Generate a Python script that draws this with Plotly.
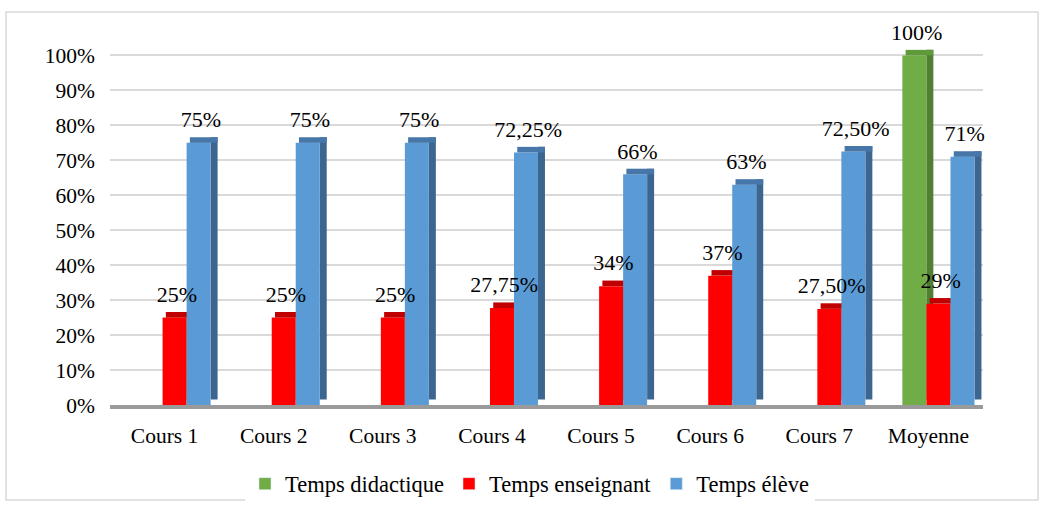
import plotly.graph_objects as go

categories = ["Cours 1", "Cours 2", "Cours 3", "Cours 4", "Cours 5", "Cours 6", "Cours 7", "Moyenne"]
didactique = [None, None, None, None, None, None, None, 1.00]
enseignant = [0.25, 0.25, 0.25, 0.2775, 0.34, 0.37, 0.275, 0.29]
eleve = [0.75, 0.75, 0.75, 0.7225, 0.66, 0.63, 0.725, 0.71]
didactique_labels = ["", "", "", "", "", "", "", "100%"]
enseignant_labels = ["25%", "25%", "25%", "27,75%", "34%", "37%", "27,50%", "29%"]
eleve_labels = ["75%", "75%", "75%", "72,25%", "66%", "63%", "72,50%", "71%"]
series_names = ["Temps didactique", "Temps enseignant", "Temps élève"]

W, H = 1044, 507
L, R, T, B = 110, 61, 24, 102
FONT = "Liberation Serif, Times New Roman, serif"
FS_TICK = 21.5
FS_LABEL = 22
FS_LEGEND = 22.5
YMAX = 1.09

BW = 0.22       # bar width (category units)
SW = 0.064      # side depth width
DEPTH = 0.016   # vertical depth (data units)

series = [
    (didactique, didactique_labels, series_names[0], "#70ad47", "#507e32", "#5f9a3a", -0.239),
    (enseignant, enseignant_labels, series_names[1], "#ff0000", "#b00000", "#c00000", -0.018),
    (eleve, eleve_labels, series_names[2], "#5b9bd5", "#3c6690", "#4677a8", 0.202),
]

fig = go.Figure()
for vals, labels, name, col, side_col, top_col, off in series:
    # side face
    fig.add_trace(go.Bar(
        x=categories, y=vals, base=DEPTH, offset=off + BW, width=SW,
        marker=dict(color=side_col, line=dict(width=0)),
        showlegend=False, hoverinfo="skip"))
    # front face
    fig.add_trace(go.Bar(
        x=categories, y=vals, name=name, offset=off, width=BW,
        marker=dict(color=col, line=dict(width=0)),
        showlegend=False))
    # top face
    fig.add_trace(go.Bar(
        x=categories, y=[DEPTH if v is not None else None for v in vals], base=vals,
        offset=off + 0.03, width=BW + SW - 0.03,
        marker=dict(color=top_col, line=dict(width=0)),
        showlegend=False, hoverinfo="skip"))

# labels drawn last so they sit on top of every bar
for vals, labels, name, col, side_col, top_col, off in series:
    fig.add_trace(go.Bar(
        x=categories, y=[DEPTH + 0.006 if v is not None else None for v in vals], base=vals,
        offset=off + 0.02, width=BW,
        marker=dict(color="rgba(0,0,0,0)", line=dict(width=0)),
        text=labels, textposition="outside", cliponaxis=False,
        textfont=dict(family=FONT, size=FS_LABEL, color="black"),
        constraintext="none",
        showlegend=False, hoverinfo="skip"))

# legend entries
for vals, labels, name, col, side_col, top_col, off in series:
    fig.add_trace(go.Bar(x=[categories[0]], y=[None], name=name,
                         marker=dict(color=col), showlegend=True))

pw = W - L - R
ph = H - T - B
fig.add_shape(type="rect", xref="paper", yref="paper",
              x0=(6 - L) / pw, x1=(1038 - L) / pw,
              y0=(H - B - 500) / ph, y1=(H - B - 12) / ph,
              line=dict(color="#d9d9d9", width=1.5), fillcolor="rgba(0,0,0,0)", layer="below")

fig.update_layout(
    width=W, height=H,
    margin=dict(l=L, r=R, t=T, b=B, autoexpand=False),
    barmode="overlay",
    plot_bgcolor="white", paper_bgcolor="white",
    font=dict(family=FONT, size=FS_TICK, color="black"),
    xaxis=dict(range=[-0.5, 7.5], showgrid=False, zeroline=False,
               showline=True, linecolor="#9a9a9a", linewidth=4,
               ticks="", ticklabelstandoff=8, automargin=False,
               tickfont=dict(family=FONT, size=FS_TICK, color="black")),
    yaxis=dict(range=[0, YMAX], dtick=0.1, tickformat=".0%",
               showgrid=True, gridcolor="#d9d9d9", gridwidth=1.5,
               zeroline=False, showline=False, ticks="",
               ticklabelstandoff=14, automargin=False,
               tickfont=dict(family=FONT, size=FS_TICK, color="black")),
    legend=dict(orientation="h", x=(530 - L) / pw, xanchor="center", y=-79 / ph, yanchor="middle",
                font=dict(family=FONT, size=FS_LEGEND, color="black"),
                itemwidth=30, traceorder="normal"),
    showlegend=True,
)

fig.write_html("out.html")
